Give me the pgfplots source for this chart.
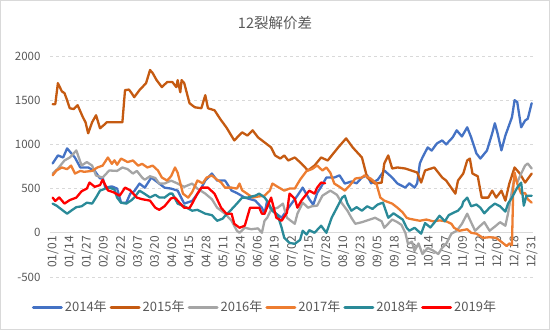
\documentclass[border=0pt]{standalone}
\usepackage{fontspec}
\setmainfont{Noto Sans CJK SC}
\usepackage{pgfplots}
\pgfplotsset{compat=1.18}
\usetikzlibrary{calc}
\definecolor{c14}{HTML}{4472C4}
\definecolor{c15}{HTML}{C55A11}
\definecolor{c16}{HTML}{A5A5A5}
\definecolor{c17}{HTML}{ED7D31}
\definecolor{c18}{HTML}{2A8A98}
\definecolor{c19}{HTML}{FF0000}
\definecolor{txt}{HTML}{595959}
\definecolor{grd}{HTML}{D9D9D9}
\begin{document}
\begin{tikzpicture}
\begin{axis}[
  name=ax,
  scale only axis,
  width=483pt, height=221pt,
  xmin=-2, xmax=365,
  ymin=-500, ymax=2000,
  axis x line*=middle,
  axis y line*=left,
  y axis line style={draw=none},
  x axis line style={draw=grd, line width=0.8pt},
  major tick length=0pt,
  ytick={-500,0,500,1000,1500,2000},
  ymajorgrids,
  grid style={dashed, draw=grd, line width=0.6pt},
  xtick={0,13,...,364},
  xticklabels={01/01,01/14,01/27,02/09,02/22,03/07,03/20,04/02,04/15,04/28,05/11,05/24,06/06,06/19,07/02,07/15,07/28,08/10,08/23,09/05,09/18,10/01,10/14,10/27,11/09,11/22,12/05,12/18,12/31},
  xticklabel style={rotate=90, anchor=east, font=\fontsize{12}{13}\selectfont, text=txt},
  yticklabel style={font=\fontsize{11.5}{12}\selectfont, text=txt, xshift=-6pt},
  /pgf/number format/assume math mode=true,
  /pgf/number format/1000 sep={},
  legend columns=6,
  legend style={at={(0.445,-0.136)}, anchor=center, draw=none, fill=none, font=\fontsize{13}{14}\selectfont, text=txt, /tikz/every even column/.append style={column sep=1pt}},
  legend image code/.code={\draw[line width=3pt, line cap=round] (0pt,0pt) -- (28pt,0pt);},
  every axis plot/.append style={line width=2.3pt, line join=round, line cap=round},
]
\addplot[c14] coordinates {(0,784)(4,875)(8,852)(11,955)(13,920)(17,850)(21,739)(27,739)(32,700)(36,614)(38,625)(40,511)(45,525)(49,500)(52,341)(56,341)(59,443)(62,470)(66,557)(70,510)(75,625)(81,557)(85,511)(90,500)(95,477)(100,330)(106,360)(112,480)(116,591)(121,670)(125,591)(131,591)(136,477)(140,450)(146,398)(154,364)(159,284)(161,216)(163,364)(166,260)(174,170)(180,300)(186,420)(190,511)(195,380)(198,318)(201,450)(204,520)(208,625)(214,625)(218,650)(222,557)(227,580)(231,560)(235,625)(239,650)(242,560)(247,600)(252,705)(258,625)(262,557)(268,511)(271,560)(275,511)(277,560)(279,784)(281,852)(285,966)(288,930)(292,1011)(296,1045)(299,1000)(304,1080)(307,1159)(311,1090)(315,1193)(318,1080)(322,898)(325,840)(330,930)(334,1125)(336,1239)(338,1130)(341,932)(344,1100)(349,1307)(351,1500)(353,1480)(356,1193)(359,1270)(361,1290)(364,1466)};
\addlegendentry{2014年}
\addplot[c15] coordinates {(0,1455)(2,1455)(4,1693)(7,1600)(9,1580)(11,1500)(13,1409)(16,1400)(19,1443)(23,1307)(25,1250)(27,1125)(30,1250)(33,1330)(36,1182)(39,1220)(41,1250)(46,1250)(53,1250)(55,1614)(58,1620)(60,1580)(62,1534)(66,1614)(71,1693)(74,1841)(76,1807)(79,1727)(83,1648)(87,1705)(91,1705)(94,1648)(95,1727)(97,1590)(98,1727)(100,1693)(104,1466)(108,1420)(113,1409)(116,1557)(118,1409)(123,1386)(128,1273)(132,1193)(138,1045)(144,1136)(148,1100)(152,1159)(156,1080)(161,1023)(166,966)(169,875)(173,840)(176,875)(179,818)(184,852)(189,784)(194,705)(199,761)(204,852)(209,818)(217,966)(223,1068)(228,966)(235,852)(239,625)(245,557)(250,568)(252,784)(255,875)(258,727)(262,739)(268,727)(277,682)(280,568)(283,705)(290,739)(296,625)(299,591)(306,443)(308,591)(312,670)(315,818)(317,840)(319,670)(323,640)(326,398)(331,398)(334,477)(337,398)(341,477)(344,364)(347,557)(351,739)(355,670)(359,568)(364,670)};
\addlegendentry{2015年}
\addplot[c16] coordinates {(0,670)(4,727)(9,818)(13,852)(15,880)(18,932)(22,761)(26,800)(30,760)(33,648)(38,625)(43,705)(49,700)(53,739)(57,720)(61,670)(64,700)(68,625)(70,600)(74,640)(78,620)(81,557)(85,557)(90,590)(95,557)(100,520)(106,557)(110,500)(116,443)(121,380)(125,284)(131,216)(136,136)(140,23)(142,0)(146,57)(151,40)(156,50)(159,0)(161,136)(163,170)(166,260)(171,284)(175,330)(178,170)(184,102)(186,216)(190,341)(194,284)(197,300)(201,307)(205,420)(211,477)(216,430)(220,330)(224,250)(227,170)(230,102)(235,120)(239,140)(245,170)(250,130)(252,57)(258,150)(262,120)(265,90)(268,0)(270,-125)(273,-100)(275,-205)(278,-120)(281,-240)(285,-170)(289,-200)(293,-240)(296,-170)(299,-125)(303,-10)(307,23)(311,102)(315,216)(317,150)(321,23)(325,80)(328,120)(332,23)(336,70)(340,120)(344,80)(346,216)(349,477)(351,625)(353,570)(356,670)(359,761)(361,784)(364,727)};
\addlegendentry{2016年}
\addplot[c17] coordinates {(0,650)(3,705)(7,739)(11,720)(14,760)(17,670)(21,700)(24,690)(30,700)(34,739)(38,760)(42,852)(45,780)(47,820)(49,770)(52,840)(57,800)(61,818)(65,760)(68,780)(72,739)(76,760)(80,705)(83,625)(87,591)(90,640)(93,739)(95,680)(99,443)(103,398)(106,460)(110,591)(114,560)(117,625)(121,648)(125,600)(128,570)(131,511)(136,511)(140,500)(142,557)(144,480)(148,440)(152,398)(156,410)(161,420)(165,477)(167,557)(171,520)(176,477)(180,500)(184,500)(188,600)(193,700)(197,720)(201,761)(205,705)(208,739)(211,680)(214,557)(218,520)(222,477)(226,540)(230,614)(235,625)(237,650)(242,610)(246,557)(249,398)(252,364)(258,330)(262,284)(266,230)(269,170)(271,159)(279,136)(284,150)(289,130)(294,140)(299,130)(303,102)(305,57)(309,23)(315,40)(318,0)(322,-10)(327,-57)(332,-50)(337,-57)(342,-114)(345,-150)(347,-120)(349,-140)(350,511)(351,682)(353,557)(356,443)(359,450)(361,380)(364,341)};
\addlegendentry{2017年}
\addplot[c18] coordinates {(0,330)(3,307)(8,250)(11,216)(15,260)(18,290)(22,300)(26,341)(30,330)(33,400)(36,477)(40,500)(43,511)(47,490)(49,398)(52,340)(56,330)(60,370)(62,398)(66,477)(70,440)(74,400)(78,430)(81,400)(85,398)(89,443)(91,443)(95,330)(100,300)(106,250)(110,260)(116,216)(121,200)(125,136)(129,159)(135,250)(140,330)(144,398)(148,398)(154,420)(157,443)(161,400)(163,360)(167,250)(171,200)(174,57)(176,-57)(180,-114)(184,-125)(188,-80)(190,23)(193,-20)(195,30)(199,0)(204,80)(208,0)(212,170)(216,284)(220,398)(222,420)(224,330)(227,250)(231,290)(235,250)(239,300)(243,270)(247,320)(251,341)(255,170)(259,220)(262,190)(266,150)(269,57)(271,23)(275,57)(280,-10)(283,110)(287,60)(290,114)(294,193)(298,130)(301,200)(305,230)(308,250)(311,300)(312,350)(315,398)(318,300)(322,320)(325,284)(328,220)(332,284)(336,330)(340,300)(344,240)(346,330)(349,398)(353,511)(356,568)(358,307)(360,420)(364,420)};
\addlegendentry{2018年}
\addplot[c19] coordinates {(0,398)(2,360)(5,400)(9,330)(13,370)(18,398)(22,470)(26,500)(28,568)(32,520)(36,540)(38,600)(42,480)(46,460)(51,420)(55,511)(59,480)(64,398)(68,380)(74,364)(78,284)(81,260)(85,300)(90,390)(93,398)(97,330)(100,284)(104,280)(106,330)(110,443)(113,511)(118,511)(123,443)(128,284)(132,216)(136,216)(138,102)(142,57)(146,80)(150,284)(154,284)(157,284)(159,216)(161,216)(166,398)(170,170)(174,136)(178,227)(180,443)(184,386)(186,284)(189,364)(192,420)(195,477)(199,443)(201,511)(204,568)(207,560)};
\addlegendentry{2019年}
\end{axis}
\node[font=\fontsize{14.5}{16}\selectfont, text=txt] at ($(ax.south west)+(225pt,254pt)$) {12裂解价差};
\draw[grd, line width=1pt] ($(ax.south west)+(-49.5pt,-52.5pt)$) rectangle ($(ax.north east)+(16.5pt,55.5pt)$);
\end{tikzpicture}
\end{document}
